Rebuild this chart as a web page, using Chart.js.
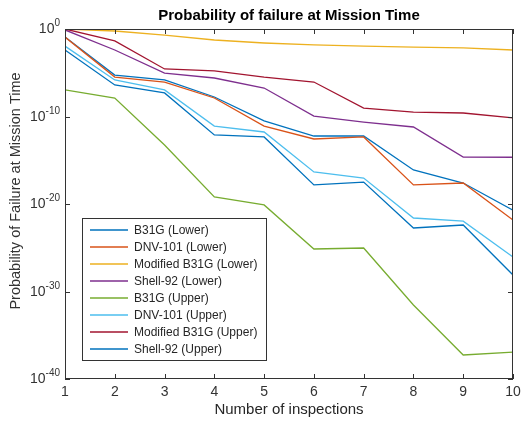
<!DOCTYPE html>
<html>
<head>
<meta charset="utf-8">
<title>Probability of failure at Mission Time</title>
<script src="https://cdn.jsdelivr.net/npm/chart.js@4.4.0/dist/chart.umd.min.js"></script>
<style>
    html, body { margin: 0; padding: 0; background: #fff; }
    canvas { display: block; }
</style>
</head>
<body>
<canvas id="chartPof" width="531" height="422"></canvas>
<script>
/* =============================
   DATA
============================= */

const inspections = [1, 2, 3, 4, 5, 6, 7, 8, 9, 10];

// probability of failure per number of inspections
const b31gLower      = [1.2e-1, 5.5e-6, 1.5e-6, 1.7e-8, 3.1e-11, 5.9e-13, 6.0e-13, 7.8e-17, 2.5e-18, 2.0e-21];
const dnvLower       = [1.2e-1, 3.2e-6, 8.7e-7, 1.3e-8, 8.1e-12, 2.7e-13, 4.6e-13, 1.5e-18, 2.5e-18, 1.5e-22];
const modB31gLower   = [1, 5.9e-1, 2.0e-1, 5.5e-2, 2.5e-2, 1.5e-2, 1.1e-2, 8.7e-3, 6.8e-3, 4.0e-3];
const shell92Lower   = [7.8e-1, 4.0e-3, 9.3e-6, 2.5e-6, 1.8e-7, 1.1e-10, 2.3e-11, 6.3e-12, 2.3e-15, 2.2e-15];
const b31gUpper      = [1.1e-7, 1.3e-8, 5.5e-14, 6.3e-20, 7.8e-21, 7.2e-26, 9.3e-26, 2.9e-32, 5.5e-38, 1.2e-37];
const dnvUpper       = [1.1e-2, 1.5e-6, 1.1e-7, 8.1e-12, 1.7e-12, 4.6e-17, 9.3e-18, 2.5e-22, 1.1e-22, 8.7e-27];
const modB31gUpper   = [1, 4.3e-2, 2.7e-5, 1.6e-5, 3.2e-6, 8.7e-7, 9.3e-10, 3.2e-10, 2.5e-10, 6.8e-11];
const shell92Upper   = [4.0e-3, 4.0e-7, 4.9e-8, 7.8e-13, 4.6e-13, 1.5e-18, 3.2e-18, 1.8e-23, 4.0e-23, 7.8e-29];

const seriesNames = [
    "B31G (Lower)", "DNV-101 (Lower)", "Modified B31G (Lower)", "Shell-92 (Lower)",
    "B31G (Upper)", "DNV-101 (Upper)", "Modified B31G (Upper)", "Shell-92 (Upper)"
];
const seriesValues = [
    b31gLower, dnvLower, modB31gLower, shell92Lower,
    b31gUpper, dnvUpper, modB31gUpper, shell92Upper
];
const seriesColors = [
    "#0072BD", "#D95319", "#EDB120", "#7E2F8E",
    "#77AC30", "#4DBEEE", "#A2142F", "#0072BD"
];

// log axis ticks: 10^exp
const yTickValues    = [1e-40, 1e-30, 1e-20, 1e-10, 1];
const yTickExponents = ["-40", "-30", "-20", "-10", "0"];

const chartTitle = "Probability of failure at Mission Time";
const xTitle = "Number of inspections";
const yTitle = "Probability of Failure at Mission Time";

const FONT = "'Liberation Sans', Arial, Helvetica, sans-serif";
const AXIS_COLOR = "#333";

/* =============================
   PLUGIN – KHUNG TRỤC, NHÃN 10^n, CHÚ THÍCH
============================= */

const matlabAxes = {
    id: "matlabAxes",
    afterDatasetsDraw(chart) {
        const { ctx, chartArea: a, scales } = chart;
        ctx.save();

        // box + inward ticks
        ctx.strokeStyle = AXIS_COLOR;
        ctx.lineWidth = 1;
        ctx.strokeRect(a.left + 0.5, a.top + 0.5, a.width - 1, a.height - 1);
        ctx.beginPath();
        inspections.forEach(v => {
            const x = Math.round(scales.x.getPixelForValue(v)) + 0.5;
            ctx.moveTo(x, a.bottom); ctx.lineTo(x, a.bottom - 5);
            ctx.moveTo(x, a.top);    ctx.lineTo(x, a.top + 5);
        });
        yTickValues.forEach(v => {
            const y = Math.round(scales.y.getPixelForValue(v)) + 0.5;
            ctx.moveTo(a.left, y);  ctx.lineTo(a.left + 5, y);
            ctx.moveTo(a.right, y); ctx.lineTo(a.right - 5, y);
        });
        ctx.stroke();

        // y tick labels with superscript exponent
        ctx.fillStyle = AXIS_COLOR;
        ctx.textBaseline = "alphabetic";
        ctx.textAlign = "left";
        yTickValues.forEach((v, i) => {
            const y = scales.y.getPixelForValue(v);
            ctx.font = "10px " + FONT;
            const we = ctx.measureText(yTickExponents[i]).width;
            ctx.font = "14px " + FONT;
            const wb = ctx.measureText("10").width;
            const right = a.left - 5;
            ctx.fillText("10", right - we - wb, y + 4);
            ctx.font = "10px " + FONT;
            ctx.fillText(yTickExponents[i], right - we, y - 3);
        });

        // y title
        ctx.save();
        ctx.font = "14.5px " + FONT;
        ctx.textAlign = "center";
        ctx.translate(20, 191);
        ctx.rotate(-Math.PI / 2);
        ctx.fillText(yTitle, 0, 0);
        ctx.restore();

        // legend box inside the axes
        const lx = 82, ly = 218, lw = 184, lh = 142, rowH = 17;
        ctx.fillStyle = "#fff";
        ctx.fillRect(lx, ly, lw, lh);
        ctx.strokeStyle = AXIS_COLOR;
        ctx.strokeRect(lx + 0.5, ly + 0.5, lw, lh);
        ctx.font = "12px " + FONT;
        ctx.textBaseline = "middle";
        ctx.lineWidth = 1.5;
        seriesNames.forEach((name, i) => {
            const y = ly + 12 + i * rowH;
            ctx.strokeStyle = seriesColors[i];
            ctx.beginPath();
            ctx.moveTo(lx + 8, y);
            ctx.lineTo(lx + 46, y);
            ctx.stroke();
            ctx.fillStyle = "#262626";
            ctx.fillText(name, lx + 52, y + 1);
        });

        ctx.restore();
    }
};

/* =============================
   BIỂU ĐỒ
============================= */

new Chart(document.getElementById("chartPof"), {
    type: "line",
    data: {
        datasets: seriesNames.map((name, i) => ({
            label: name,
            data: inspections.map((x, j) => ({ x: x, y: seriesValues[i][j] })),
            borderColor: seriesColors[i],
            backgroundColor: seriesColors[i],
            borderWidth: 1.3,
            pointRadius: 0,
            tension: 0,
            fill: false,
            order: seriesNames.length - i
        }))
    },
    options: {
        responsive: false,
        animation: false,
        layout: { padding: { left: 0, right: 18, top: 0, bottom: 0 } },
        plugins: {
            legend: { display: false },
            tooltip: { enabled: false },
            title: {
                display: true,
                fullSize: false,
                text: chartTitle,
                color: "#000",
                font: { family: FONT, size: 15, weight: "bold" },
                padding: { top: 7, bottom: 4 }
            }
        },
        scales: {
            x: {
                type: "linear",
                min: 1,
                max: 10,
                grid: { display: false, drawTicks: false },
                border: { display: false },
                ticks: {
                    stepSize: 1,
                    padding: 5,
                    maxRotation: 0,
                    color: AXIS_COLOR,
                    font: { family: FONT, size: 14 }
                },
                title: {
                    display: true,
                    text: xTitle,
                    color: "#262626",
                    font: { family: FONT, size: 15 },
                    padding: { top: 0, bottom: 3 }
                },
                afterFit(scale) { scale.height = 43; }
            },
            y: {
                type: "logarithmic",
                min: 1e-40,
                max: 1,
                grid: { display: false, drawTicks: false },
                border: { display: false },
                ticks: { display: false },
                afterBuildTicks(scale) {
                    scale.ticks = yTickValues.map(v => ({ value: v }));
                },
                afterFit(scale) { scale.width = 65; }
            }
        }
    },
    plugins: [matlabAxes]
});
</script>
</body>
</html>
